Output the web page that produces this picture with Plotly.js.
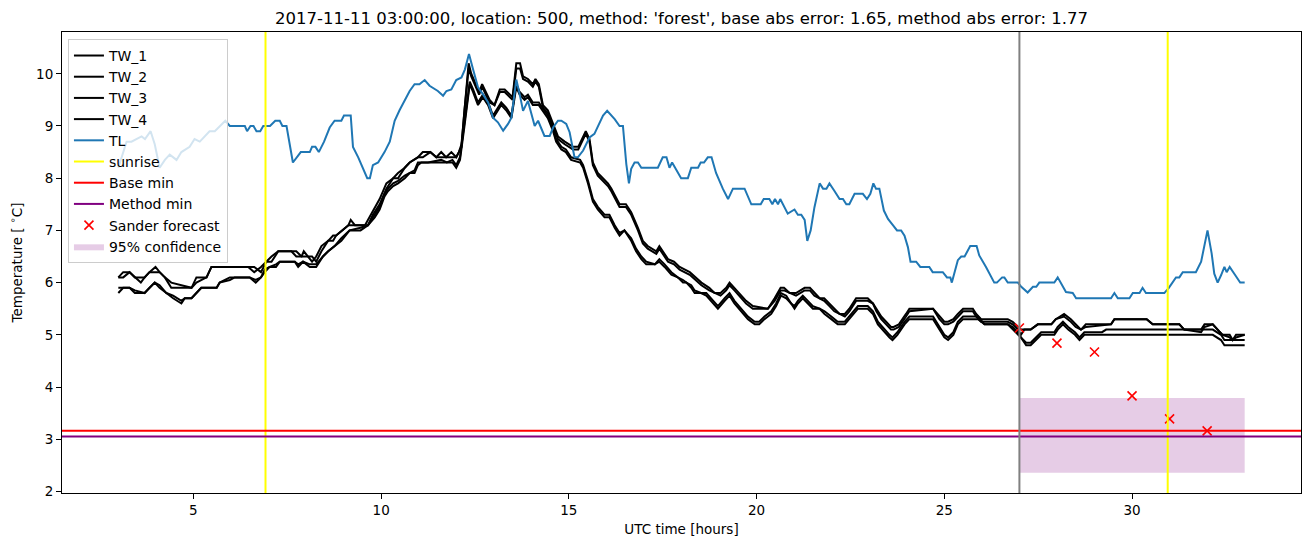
<!DOCTYPE html>
<html>
<head>
<meta charset="utf-8">
<script src="https://cdn.plot.ly/plotly-3.0.1.min.js"></script>
<style>html,body{margin:0;padding:0;background:#fff;}#chart{width:1310px;height:547px;}</style>
</head>
<body>
<div id="chart"></div>
<script>
// ---------- data ----------
const tl_hours = [3.0,3.22,3.35,3.62,3.71,3.86,3.97,4.10,4.24,4.37,4.55,4.68,4.90,5.03,5.17,5.30,5.43,5.57,5.70,5.85,
5.97,6.37,6.43,6.52,6.60,6.68,6.78,6.86,7.04,7.18,7.30,7.37,7.48,7.65,7.86,8.10,8.16,8.25,8.34,8.48,
8.63,8.76,8.94,9.01,9.19,9.25,9.39,9.52,9.63,9.70,9.78,9.92,10.09,10.23,10.36,10.49,10.63,10.76,10.89,11.02,
11.16,11.29,11.51,11.65,11.74,11.87,12.0,12.14,12.23,12.34,12.45,12.58,12.71,12.85,12.98,13.11,13.25,13.38,13.47,13.60,
13.69,13.78,13.91,14.09,14.18,14.35,14.49,14.58,14.71,14.80,14.93,15.02,15.15,15.24,15.38,15.55,15.68,15.82,15.91,16.02,
16.13,16.22,16.35,16.44,16.53,16.60,16.66,16.75,16.84,16.93,17.37,17.50,17.60,17.68,17.75,17.99,18.17,18.26,18.44,18.51,
18.60,18.70,18.80,18.92,19.10,19.24,19.37,19.68,19.86,20.11,20.19,20.34,20.42,20.49,20.57,20.63,20.83,21.01,21.10,21.19,
21.28,21.35,21.44,21.54,21.68,21.77,21.86,21.94,22.07,22.21,22.30,22.39,22.47,22.61,22.83,22.94,23.03,23.11,23.18,23.27,
23.39,23.50,23.63,23.74,23.85,23.94,24.03,24.10,24.25,24.36,24.60,24.69,24.96,25.07,25.16,25.20,25.36,25.45,25.54,25.69,
25.86,25.93,26.11,26.33,26.40,26.54,26.60,26.69,26.96,27.05,27.22,27.36,27.45,27.53,27.93,28.02,28.24,28.42,28.51,29.44,
29.53,29.62,29.93,30.02,30.20,30.28,30.37,30.86,30.98,31.17,31.26,31.35,31.70,31.84,32.01,32.12,32.19,32.28,32.37,32.46,
32.52,32.60,32.75,32.88,33.0];
const tl_temp = [8.2,8.7,8.7,8.8,8.75,8.9,8.65,8.2,8.35,8.45,8.35,8.5,8.6,8.75,8.7,8.8,8.9,8.9,9.0,9.1,
9.0,9.0,8.9,9.0,9.0,8.9,8.9,9.0,9.0,9.1,9.1,9.0,9.0,8.3,8.5,8.5,8.6,8.6,8.5,8.7,
8.97,9.1,9.1,9.2,9.2,8.6,8.4,8.2,8.0,8.0,8.25,8.3,8.5,8.7,9.1,9.3,9.5,9.67,9.8,9.8,
9.88,9.77,9.67,9.58,9.67,9.7,9.88,9.93,10.08,10.38,10.08,9.74,9.61,9.45,9.16,9.07,8.91,9.04,9.16,9.89,
9.61,9.29,9.48,9.0,9.1,8.81,8.81,8.97,9.1,9.1,9.04,8.88,8.4,8.4,8.53,8.78,8.85,9.07,9.2,9.29,
9.2,9.13,9.0,9.0,8.27,7.9,8.18,8.3,8.3,8.2,8.2,8.4,8.4,8.2,8.3,8.0,8.0,8.2,8.2,8.3,
8.3,8.4,8.4,8.1,7.8,7.6,7.8,7.8,7.5,7.5,7.6,7.6,7.5,7.6,7.5,7.6,7.32,7.4,7.3,7.3,
7.2,6.8,7.0,7.44,7.9,7.8,7.8,7.9,7.76,7.6,7.6,7.5,7.5,7.7,7.7,7.6,7.7,7.9,7.8,7.8,
7.38,7.22,7.1,7.0,7.0,6.9,6.68,6.4,6.4,6.3,6.3,6.2,6.2,6.1,6.1,6.0,6.43,6.5,6.5,6.7,
6.7,6.52,6.3,6.0,6.0,6.1,6.1,6.0,6.0,5.92,5.81,5.92,5.92,6.0,6.0,6.1,5.82,5.8,5.7,5.7,
5.8,5.7,5.7,5.8,5.8,5.9,5.8,5.8,5.9,6.1,6.1,6.2,6.2,6.4,7.0,6.56,6.17,6.0,6.14,6.3,
6.2,6.3,6.14,6.0,6.0];

const tw_upper_hours = [3.0,3.13,3.3,3.44,3.6,3.7,3.83,3.99,4.1,4.24,
4.41,4.95,5.08,5.35,5.48,6.46,6.62,6.8,6.94,7.08,
7.26,7.61,7.74,7.88,7.94,8.05,8.16,8.27,8.41,8.59,
8.72,8.8,8.96,9.13,9.19,9.3,9.57,9.65,9.78,9.96,
10.14,10.32,10.45,10.63,10.76,10.98,11.11,11.31,11.47,11.6,
11.73,11.87,12.0,12.07,12.14,12.22,12.33,12.4,12.49,12.61,
12.69,12.78,12.89,13.02,13.16,13.29,13.42,13.5,13.6,13.7,
13.78,13.91,14.04,14.11,14.2,14.31,14.44,14.58,14.71,14.89,
15.11,15.25,15.38,15.45,15.55,15.64,15.77,15.9,16.04,16.13,
16.21,16.35,16.52,16.66,16.84,16.97,17.1,17.33,17.41,17.55,
17.64,17.8,17.95,18.22,18.39,18.53,18.74,18.88,19.04,19.19,
19.28,19.41,19.54,19.72,19.9,20.3,20.48,20.64,20.73,20.88,
21.05,21.28,21.42,21.54,21.68,21.8,21.94,22.07,22.21,22.35,
22.47,22.65,22.96,23.1,23.19,23.32,23.45,23.58,23.65,23.79,
23.98,24.07,24.7,24.87,25.0,25.1,25.24,25.36,25.5,25.76,
25.85,25.98,26.69,26.82,26.96,27.04,27.13,27.3,27.49,27.85,27.97,28.19,
28.37,28.5,28.64,28.77,29.44,29.53,30.39,30.55,31.26,31.39,
31.84,31.93,32.15,32.28,32.41,32.6,32.68,32.77,33.0];
const tw1_temp = [6.1,6.2,6.2,6.1,6.0,6.1,6.2,6.3,6.2,6.1,
5.9,5.9,6.1,6.1,6.3,6.3,6.2,6.3,6.4,6.5,
6.6,6.6,6.5,6.5,6.6,6.5,6.4,6.5,6.7,6.8,
6.9,6.9,7.0,7.1,7.2,7.1,7.1,7.2,7.35,7.6,
7.9,8.0,8.1,8.2,8.3,8.4,8.5,8.5,8.4,8.5,
8.4,8.5,8.4,8.5,8.65,9.35,10.2,10.0,9.85,9.65,
9.8,9.65,9.5,9.4,9.7,9.7,9.6,9.55,10.2,10.2,
9.95,9.9,9.8,9.9,9.8,9.4,9.3,9.05,8.8,8.7,
8.6,8.6,8.8,8.9,8.75,8.3,8.1,8.0,7.9,7.8,
7.7,7.5,7.5,7.35,7.05,6.8,6.7,6.6,6.7,6.55,
6.45,6.4,6.3,6.2,6.1,6.0,5.9,5.8,5.8,5.9,
6.0,5.9,5.8,5.65,5.55,5.5,5.7,5.9,5.9,5.8,
5.8,5.9,5.9,5.8,5.7,5.7,5.6,5.5,5.4,5.4,
5.5,5.7,5.7,5.6,5.5,5.35,5.25,5.15,5.15,5.2,
5.4,5.5,5.5,5.35,5.25,5.25,5.3,5.4,5.5,5.5,
5.4,5.3,5.3,5.25,5.15,5.1,5.1,5.1,5.2,5.2,5.3,5.4,
5.3,5.2,5.1,5.2,5.2,5.3,5.3,5.2,5.2,5.1,
5.1,5.2,5.2,5.1,5.0,5.0,4.9,5.0,5.0];
const tw2_temp = [6.1,6.1,6.2,6.1,6.1,6.1,6.2,6.2,6.2,6.1,
6.0,5.9,6.0,6.1,6.3,6.3,6.3,6.2,6.4,6.4,
6.6,6.6,6.6,6.5,6.5,6.5,6.5,6.4,6.6,6.8,
6.8,6.9,7.0,7.1,7.1,7.1,7.1,7.1,7.3,7.5,
7.8,8.0,8.0,8.2,8.3,8.4,8.4,8.5,8.4,8.4,
8.4,8.4,8.4,8.5,8.6,9.3,10.1,9.95,9.8,9.6,
9.75,9.6,9.45,9.4,9.65,9.65,9.55,9.5,10.1,10.1,
9.9,9.85,9.75,9.85,9.75,9.35,9.25,9.0,8.75,8.65,
8.55,8.55,8.75,8.85,8.7,8.25,8.05,7.95,7.85,7.75,
7.65,7.45,7.45,7.3,7.0,6.75,6.65,6.55,6.65,6.5,
6.4,6.35,6.25,6.15,6.05,5.95,5.85,5.8,5.75,5.85,
5.95,5.85,5.75,5.6,5.5,5.5,5.65,5.85,5.85,5.8,
5.75,5.85,5.85,5.75,5.7,5.65,5.55,5.45,5.4,5.35,
5.45,5.65,5.65,5.6,5.45,5.3,5.2,5.1,5.1,5.15,
5.35,5.45,5.5,5.3,5.2,5.2,5.25,5.35,5.45,5.45,
5.35,5.25,5.25,5.2,5.1,5.0,5.1,5.1,5.2,5.2,5.3,5.35,
5.25,5.15,5.1,5.15,5.2,5.3,5.3,5.2,5.2,5.1,
5.05,5.15,5.2,5.1,5.0,4.95,4.9,4.95,5.0];

const tw_lower_hours = [3.0,3.13,3.3,3.44,3.7,3.83,3.97,4.1,4.28,4.46,
4.68,4.77,4.95,5.08,5.21,5.62,5.7,5.97,6.1,6.5,
6.66,6.8,6.9,7.03,7.2,7.3,7.7,7.79,7.92,8.1,
8.27,8.45,8.59,8.76,8.94,9.16,9.45,9.65,9.83,9.96,
10.09,10.18,10.32,10.45,10.63,10.76,10.89,10.98,11.07,11.25,
11.6,11.75,11.9,12.0,12.1,12.22,12.36,12.45,12.58,12.71,
12.85,12.98,13.11,13.2,13.33,13.47,13.6,13.69,13.82,13.91,
14.04,14.2,14.44,14.58,14.66,14.8,14.92,15.06,15.3,15.38,
15.51,15.64,15.77,15.95,16.08,16.22,16.35,16.48,16.66,16.79,
16.93,17.06,17.29,17.41,17.55,17.73,17.9,18.04,18.13,18.26,
18.35,18.52,18.66,18.84,18.97,19.15,19.28,19.41,19.59,19.77,
19.95,20.07,20.21,20.39,20.52,20.65,20.79,20.92,21.01,21.1,
21.23,21.37,21.5,21.68,21.81,21.99,22.16,22.35,22.47,22.7,
22.96,23.1,23.23,23.41,23.54,23.62,23.75,23.94,24.07,24.7,
24.83,25.0,25.1,25.24,25.36,25.5,25.9,26.07,26.69,26.82,
26.96,27.04,27.18,27.3,27.44,27.58,27.93,28.02,28.16,28.3,
28.48,28.6,28.73,29.2,29.31,31.88,32.15,32.37,32.46,33.0];
const tw3_temp = [5.8,5.9,5.9,5.8,5.8,5.9,6.0,5.9,5.8,5.7,
5.6,5.7,5.7,5.8,5.9,5.9,6.0,6.1,6.1,6.1,
6.0,6.1,6.2,6.3,6.3,6.4,6.4,6.3,6.4,6.3,
6.3,6.5,6.6,6.7,6.8,7.0,7.0,7.1,7.25,7.4,
7.65,7.75,7.85,7.9,8.0,8.1,8.1,8.25,8.3,8.3,
8.3,8.3,8.3,8.2,8.35,9.0,9.8,9.65,9.4,9.55,
9.4,9.15,9.3,9.4,9.3,9.15,9.75,9.6,9.5,9.55,
9.4,9.4,9.15,8.9,8.7,8.55,8.5,8.35,8.3,8.2,
7.9,7.55,7.4,7.25,7.25,7.05,6.9,7.0,6.8,6.6,
6.45,6.35,6.35,6.4,6.3,6.15,6.1,6.0,6.0,5.9,
5.8,5.8,5.75,5.6,5.5,5.65,5.75,5.6,5.45,5.3,
5.2,5.2,5.3,5.4,5.55,5.75,5.7,5.6,5.5,5.6,
5.7,5.6,5.5,5.5,5.4,5.3,5.2,5.2,5.3,5.5,
5.5,5.4,5.2,5.05,4.95,4.9,5.0,5.2,5.3,5.3,
5.15,4.95,4.9,5.0,5.2,5.3,5.3,5.2,5.2,5.1,
5.0,4.95,4.8,4.8,4.9,5.0,5.0,5.1,5.2,5.1,
5.0,4.9,5.0,5.0,5.0,5.0,5.0,4.9,4.8,4.8];
const tw4_temp = [5.9,5.9,5.9,5.85,5.8,5.9,6.0,5.95,5.8,5.75,
5.65,5.7,5.7,5.8,5.9,5.9,6.0,6.05,6.1,6.1,
6.05,6.1,6.25,6.3,6.35,6.4,6.4,6.35,6.4,6.35,
6.35,6.5,6.6,6.7,6.85,7.0,7.05,7.1,7.3,7.45,
7.7,7.8,7.9,7.95,8.05,8.1,8.15,8.3,8.3,8.3,
8.35,8.3,8.35,8.25,8.4,9.1,9.85,9.7,9.45,9.6,
9.45,9.2,9.35,9.45,9.35,9.2,9.8,9.65,9.55,9.6,
9.45,9.45,9.2,8.95,8.75,8.6,8.55,8.4,8.35,8.25,
7.95,7.6,7.45,7.3,7.3,7.1,6.95,7.0,6.85,6.65,
6.5,6.4,6.35,6.45,6.35,6.2,6.1,6.05,6.0,5.95,
5.85,5.8,5.8,5.65,5.55,5.7,5.8,5.65,5.5,5.35,
5.25,5.25,5.35,5.45,5.6,5.8,5.75,5.6,5.55,5.65,
5.75,5.65,5.55,5.5,5.45,5.35,5.25,5.25,5.35,5.55,
5.55,5.45,5.25,5.1,5.0,4.95,5.05,5.25,5.35,5.35,
5.2,5.0,4.95,5.05,5.25,5.35,5.35,5.2,5.2,5.15,
5.05,4.95,4.85,4.85,4.95,5.05,5.05,5.15,5.25,5.15,
5.05,4.95,5.05,5.05,5.1,5.1,5.1,5.0,4.9,4.9];

const sunrise_hours = [6.92, 30.95];
const forecast_time = 27.0;
const base_min = 3.16;
const method_min = 3.05;
const forecast_hours = [27, 28, 29, 30, 31, 32];
const forecast_temp = [5.13, 4.84, 4.67, 3.83, 3.39, 3.16];
const conf_hours = [27, 33];
const conf_low = 2.36;
const conf_high = 3.79;

const titleText = "2017-11-11 03:00:00, location: 500, method: 'forest', base abs error: 1.65, method abs error: 1.77";

// ---------- traces ----------
const FONT = "DejaVu Sans, Liberation Sans, sans-serif";
const traces = [];

traces.push({
  x: [conf_hours[0], conf_hours[1], conf_hours[1], conf_hours[0]],
  y: [conf_low, conf_low, conf_high, conf_high],
  fill: 'toself', fillcolor: 'rgba(128,0,128,0.2)', mode: 'lines',
  line: {width: 0, color: 'rgba(128,0,128,0.2)'},
  name: '95% confidence', legendrank: 1010, hoverinfo: 'skip'
});

const tws = [[tw_upper_hours, tw1_temp, 'TW_1'], [tw_upper_hours, tw2_temp, 'TW_2'],
             [tw_lower_hours, tw3_temp, 'TW_3'], [tw_lower_hours, tw4_temp, 'TW_4']];
tws.forEach((t, i) => traces.push({
  x: t[0], y: t[1], name: t[2], mode: 'lines',
  line: {color: 'black', width: 2}, legendrank: 1000 + i
}));

traces.push({x: tl_hours, y: tl_temp, name: 'TL', mode: 'lines',
  line: {color: '#1f77b4', width: 2}, legendrank: 1004});

const sx = [], sy = [];
sunrise_hours.forEach((h, i) => { if (i) { sx.push(null); sy.push(null); } sx.push(h, h); sy.push(0, 1); });
traces.push({x: sx, y: sy, xaxis: 'x', yaxis: 'y2', name: 'sunrise', mode: 'lines',
  line: {color: '#ffff00', width: 2}, legendrank: 1005});

traces.push({x: [0, 1], y: [base_min, base_min], xaxis: 'x2', yaxis: 'y', name: 'Base min',
  mode: 'lines', line: {color: 'red', width: 2}, legendrank: 1006});
traces.push({x: [0, 1], y: [method_min, method_min], xaxis: 'x2', yaxis: 'y', name: 'Method min',
  mode: 'lines', line: {color: 'purple', width: 2}, legendrank: 1007});

traces.push({x: forecast_hours, y: forecast_temp, name: 'Sander forecast', mode: 'markers',
  marker: {symbol: 'x-thin', size: 9, color: 'red', line: {color: 'red', width: 1.6}},
  legendrank: 1008});

const axBase = {
  showline: true, mirror: true, linecolor: 'black', linewidth: 1,
  ticks: 'outside', ticklen: 5, tickwidth: 1, tickcolor: 'black',
  showgrid: false, zeroline: false,
  tickfont: {family: FONT, size: 13.5, color: 'black'}
};

const layout = {
  width: 1310, height: 547,
  margin: {l: 62, r: 9, t: 32, b: 54},
  paper_bgcolor: 'white', plot_bgcolor: 'white',
  font: {family: FONT, color: 'black'},
  title: {text: titleText, x: 0.5, xref: 'paper', xanchor: 'center',
          y: 1 - 18/547, yref: 'container', yanchor: 'middle',
          font: {family: FONT, size: 16.5, color: 'black'}},
  xaxis: Object.assign({}, axBase, {range: [1.5, 34.5], tickvals: [5,10,15,20,25,30],
          title: {text: 'UTC time [hours]', standoff: 7, font: {family: FONT, size: 13.5, color: 'black'}}}),
  yaxis: Object.assign({}, axBase, {range: [1.97, 10.8], tickvals: [2,3,4,5,6,7,8,9,10],
          title: {text: 'Temperature [ <sup>∘</sup>C]', standoff: 10, font: {family: FONT, size: 13.5, color: 'black'}}}),
  xaxis2: {overlaying: 'x', range: [0, 1], visible: false, fixedrange: true},
  yaxis2: {overlaying: 'y', range: [0, 1], visible: false, fixedrange: true},
  shapes: [{type: 'line', xref: 'x', yref: 'paper', x0: forecast_time, x1: forecast_time, y0: 0, y1: 1,
            line: {color: 'gray', width: 2}, layer: 'above'}],
  showlegend: true,
  legend: {x: 0.0048, y: 0.985, xanchor: 'left', yanchor: 'top',
           bgcolor: 'rgba(255,255,255,0.8)', bordercolor: '#cccccc', borderwidth: 1,
           font: {family: FONT, size: 14, color: 'black'}, itemwidth: 30, tracegroupgap: 0}
};

Plotly.newPlot('chart', traces, layout, {displayModeBar: false, staticPlot: true});
</script>
</body>
</html>
